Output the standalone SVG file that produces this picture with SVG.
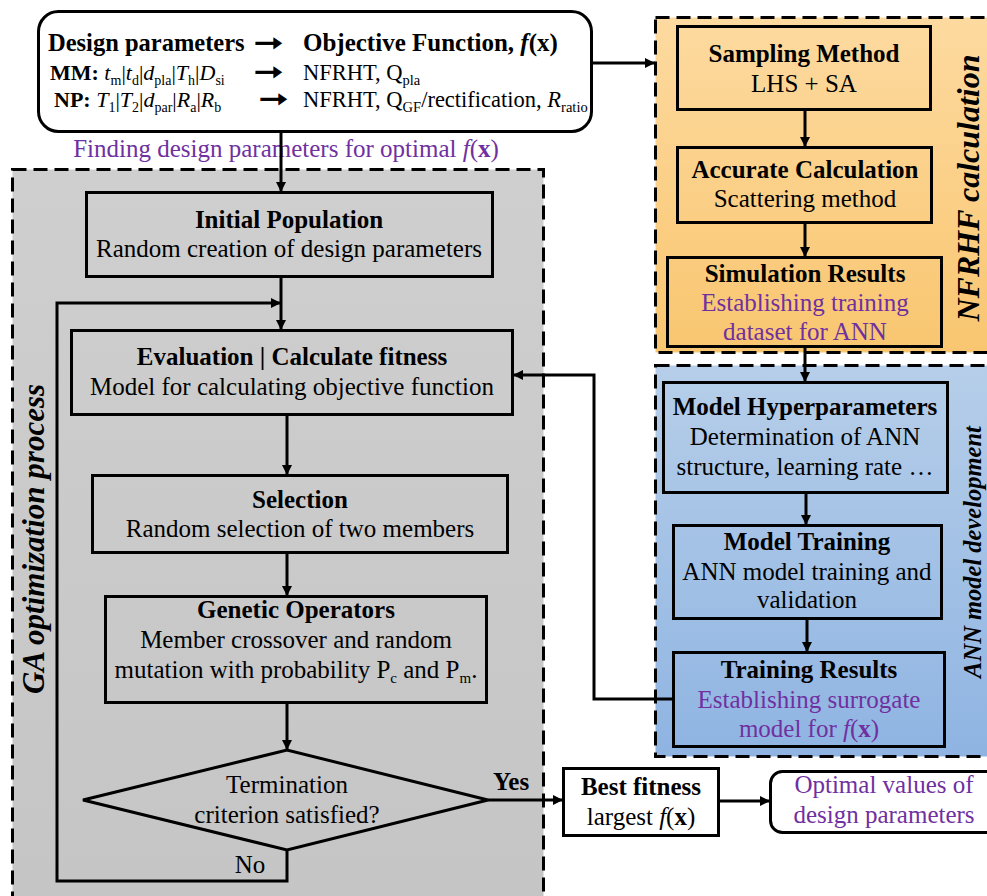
<svg xmlns="http://www.w3.org/2000/svg" width="987" height="896" viewBox="0 0 987 896" font-family="Liberation Serif, serif">
<defs>
<linearGradient id="gGrey" x1="0" y1="0" x2="0" y2="1"><stop offset="0" stop-color="#cfcfcf"/><stop offset="1" stop-color="#c5c5c5"/></linearGradient>
<linearGradient id="gOrange" x1="0" y1="0" x2="0" y2="1"><stop offset="0" stop-color="#fddaa0"/><stop offset="1" stop-color="#f9c670"/></linearGradient>
<linearGradient id="gBlue" x1="0" y1="0" x2="0" y2="1"><stop offset="0" stop-color="#b6cee9"/><stop offset="1" stop-color="#8fb4e2"/></linearGradient>
<marker id="ah" viewBox="0 0 10 10" refX="10" refY="5" markerWidth="11" markerHeight="10" markerUnits="userSpaceOnUse" orient="auto"><path d="M0,0 L10,5 L0,10 z" fill="#000"/></marker>
</defs>
<style>
text{fill:#000}
.t{font-size:25px;text-anchor:middle}
.b{font-weight:bold}
.p{fill:#7030a0}
.i{font-style:italic}
.box{fill:none;stroke:#000;stroke-width:3}
.region{stroke:#000;stroke-width:3;stroke-dasharray:14 7}
.conn path{fill:none;stroke:#000;stroke-width:3}
.lab{font-weight:bold;font-style:italic;text-anchor:middle}
.t22{font-size:22px}
.t23{font-size:22.5px}
.s{font-size:14px}
.s15{font-size:14.5px}
.arr{font-size:24px;font-weight:bold;stroke:#000;stroke-width:0.8}
</style>

<g id="ga-region">
<rect class="region" x="12.5" y="169.5" width="531" height="740" fill="url(#gGrey)"/>
<text font-family="Liberation Serif, serif" class="lab" font-size="31" transform="translate(44,539) rotate(-90)">GA optimization process</text>
</g>
<g id="nfrhf-region">
<rect class="region" x="655.5" y="17.5" width="345" height="335" fill="url(#gOrange)"/>
<text font-family="Liberation Serif, serif" class="lab" font-size="32" transform="translate(979,188) rotate(-90)">NFRHF calculation</text>
</g>
<g id="ann-region">
<rect class="region" x="655.5" y="365.5" width="345" height="391" fill="url(#gBlue)"/>
<text font-family="Liberation Serif, serif" class="lab" font-size="24.5" transform="translate(981,552) rotate(-90)">ANN model development</text>
</g>

<g id="design-box">
<rect x="38.5" y="11.5" width="553" height="120" rx="20" fill="#fff" stroke="#000" stroke-width="3"/>
<text font-family="Liberation Serif, serif" x="48" y="51" font-size="24.5" class="b">Design parameters</text>
<text font-family="DejaVu Sans, sans-serif" x="254" y="51" class="arr" textLength="29" lengthAdjust="spacingAndGlyphs">➞</text>
<text font-family="Liberation Serif, serif" x="303" y="51" font-size="25" class="b">Objective Function, <tspan class="i">f</tspan>(x)</text>
<text font-family="Liberation Serif, serif" x="50" y="80" class="t22"><tspan class="b">MM:</tspan> <tspan class="i">t</tspan><tspan class="s" dy="5">m</tspan><tspan dy="-5">|</tspan><tspan class="i">t</tspan><tspan class="s" dy="5">d</tspan><tspan dy="-5">|</tspan><tspan class="i">d</tspan><tspan class="s" dy="5">pla</tspan><tspan dy="-5">|</tspan><tspan class="i">T</tspan><tspan class="s" dy="5">h</tspan><tspan dy="-5">|</tspan><tspan class="i">D</tspan><tspan class="s" dy="5">si</tspan></text>
<text font-family="DejaVu Sans, sans-serif" x="254" y="80" class="arr" textLength="29" lengthAdjust="spacingAndGlyphs">➞</text>
<text font-family="Liberation Serif, serif" x="303" y="80" class="t23">NFRHT, Q<tspan class="s15" dy="5">pla</tspan></text>
<text font-family="Liberation Serif, serif" x="54" y="107" class="t22"><tspan class="b">NP:</tspan> <tspan class="i">T</tspan><tspan class="s" dy="5">1</tspan><tspan dy="-5">|</tspan><tspan class="i">T</tspan><tspan class="s" dy="5">2</tspan><tspan dy="-5">|</tspan><tspan class="i">d</tspan><tspan class="s" dy="5">par</tspan><tspan dy="-5">|</tspan><tspan class="i">R</tspan><tspan class="s" dy="5">a</tspan><tspan dy="-5">|</tspan><tspan class="i">R</tspan><tspan class="s" dy="5">b</tspan></text>
<text font-family="DejaVu Sans, sans-serif" x="259" y="107" class="arr" textLength="29" lengthAdjust="spacingAndGlyphs">➞</text>
<text font-family="Liberation Serif, serif" x="303" y="107" class="t23">NFRHT, Q<tspan class="s15" dy="5">GF</tspan><tspan dy="-5">/rectification, </tspan><tspan class="i">R</tspan><tspan class="s15" dy="5">ratio</tspan></text>
</g>
<text font-family="Liberation Serif, serif" class="t p" x="286" y="157">Finding design parameters for optimal <tspan class="i">f</tspan>(<tspan class="b">x</tspan>)</text>

<g id="initial-population">
<rect class="box" x="86.5" y="192.5" width="406" height="84"/>
<text font-family="Liberation Serif, serif" class="t b" x="289" y="228">Initial Population</text>
<text font-family="Liberation Serif, serif" class="t" x="289" y="257">Random creation of design parameters</text>
</g>
<g id="evaluation">
<rect class="box" x="71.5" y="330.5" width="441" height="84"/>
<text font-family="Liberation Serif, serif" class="t b" x="292" y="365">Evaluation | Calculate fitness</text>
<text font-family="Liberation Serif, serif" class="t" x="292" y="395">Model for calculating objective function</text>
</g>
<g id="selection">
<rect class="box" x="92.5" y="475.5" width="415" height="77"/>
<text font-family="Liberation Serif, serif" class="t b" x="300" y="508">Selection</text>
<text font-family="Liberation Serif, serif" class="t" x="300" y="537">Random selection of two members</text>
</g>
<g id="genetic-operators">
<rect class="box" x="105.5" y="596.5" width="381" height="106"/>
<text font-family="Liberation Serif, serif" class="t b" x="296" y="618">Genetic Operators</text>
<text font-family="Liberation Serif, serif" class="t" x="296" y="648">Member crossover and random</text>
<text font-family="Liberation Serif, serif" class="t" x="296" y="678">mutation with probability P<tspan font-size="15" dy="5">c</tspan><tspan dy="-5"> and P</tspan><tspan font-size="15" dy="5">m</tspan><tspan dy="-5">.</tspan></text>
</g>
<g id="termination">
<path class="box" d="M83,800 L287,750 L488,800 L287,850 Z"/>
<text font-family="Liberation Serif, serif" class="t" x="287" y="793">Termination</text>
<text font-family="Liberation Serif, serif" class="t" x="287" y="823">criterion satisfied?</text>
</g>

<g id="sampling-method">
<rect class="box" x="677.5" y="26.5" width="253" height="83"/>
<text font-family="Liberation Serif, serif" class="t b" x="804" y="62">Sampling Method</text>
<text font-family="Liberation Serif, serif" class="t" x="804" y="92">LHS + SA</text>
</g>
<g id="accurate-calculation">
<rect class="box" x="677.5" y="147.5" width="254" height="75"/>
<text font-family="Liberation Serif, serif" class="t b" x="805" y="178">Accurate Calculation</text>
<text font-family="Liberation Serif, serif" class="t" x="805" y="207">Scattering method</text>
</g>
<g id="simulation-results">
<rect class="box" x="667.5" y="257.5" width="274" height="89"/>
<text font-family="Liberation Serif, serif" class="t b" x="805" y="282">Simulation Results</text>
<text font-family="Liberation Serif, serif" class="t p" x="805" y="311">Establishing training</text>
<text font-family="Liberation Serif, serif" class="t p" x="805" y="340">dataset for ANN</text>
</g>

<g id="model-hyperparameters">
<rect class="box" x="663.5" y="382.5" width="284" height="110"/>
<text font-family="Liberation Serif, serif" class="t b" x="805" y="415">Model Hyperparameters</text>
<text font-family="Liberation Serif, serif" class="t" x="805" y="445">Determination of ANN</text>
<text font-family="Liberation Serif, serif" class="t" x="805" y="475">structure, learning rate …</text>
</g>
<g id="model-training">
<rect class="box" x="673.5" y="525.5" width="268" height="93"/>
<text font-family="Liberation Serif, serif" class="t b" x="807" y="550">Model Training</text>
<text font-family="Liberation Serif, serif" class="t" x="807" y="580">ANN model training and</text>
<text font-family="Liberation Serif, serif" class="t" x="807" y="608">validation</text>
</g>
<g id="training-results">
<rect class="box" x="673.5" y="652.5" width="271" height="94"/>
<text font-family="Liberation Serif, serif" class="t b" x="809" y="678">Training Results</text>
<text font-family="Liberation Serif, serif" class="t p" x="809" y="708">Establishing surrogate</text>
<text font-family="Liberation Serif, serif" class="t p" x="809" y="737">model for <tspan class="i">f</tspan>(<tspan class="b">x</tspan>)</text>
</g>

<g id="best-fitness">
<rect class="box" x="563.5" y="768.5" width="155" height="67"/>
<text font-family="Liberation Serif, serif" class="t b" x="641" y="795">Best fitness</text>
<text font-family="Liberation Serif, serif" class="t" x="641" y="825">largest <tspan class="i">f</tspan>(<tspan class="b">x</tspan>)</text>
</g>
<g id="optimal-values">
<rect class="box" x="770.5" y="771.5" width="240" height="61" rx="12"/>
<text font-family="Liberation Serif, serif" class="t p" x="884" y="793">Optimal values of</text>
<text font-family="Liberation Serif, serif" class="t p" x="884" y="823">design parameters</text>
</g>

<g id="connectors" class="conn">
<path d="M281,132 V192" marker-end="url(#ah)"/>
<path d="M592,63 H655" marker-end="url(#ah)"/>
<path d="M281,277 V330" marker-end="url(#ah)"/>
<path d="M287,850 V881 H57 V303 H281" marker-end="url(#ah)"/>
<path d="M287,415 V475" marker-end="url(#ah)"/>
<path d="M287,553 V596" marker-end="url(#ah)"/>
<path d="M287,703 V750" marker-end="url(#ah)"/>
<path d="M488,800 H563" marker-end="url(#ah)"/>
<path d="M719,801 H770" marker-end="url(#ah)"/>
<path d="M805,110 V147" marker-end="url(#ah)"/>
<path d="M805,223 V257" marker-end="url(#ah)"/>
<path d="M805,347 V382" marker-end="url(#ah)"/>
<path d="M806,493 V525" marker-end="url(#ah)"/>
<path d="M807,619 V652" marker-end="url(#ah)"/>
<path d="M673,699 H594 V375 H513" marker-end="url(#ah)"/>
<text font-family="Liberation Serif, serif" class="b" font-size="25" x="493" y="790">Yes</text>
<text font-family="Liberation Serif, serif" class="t" x="250" y="873">No</text>
</g>
</svg>
